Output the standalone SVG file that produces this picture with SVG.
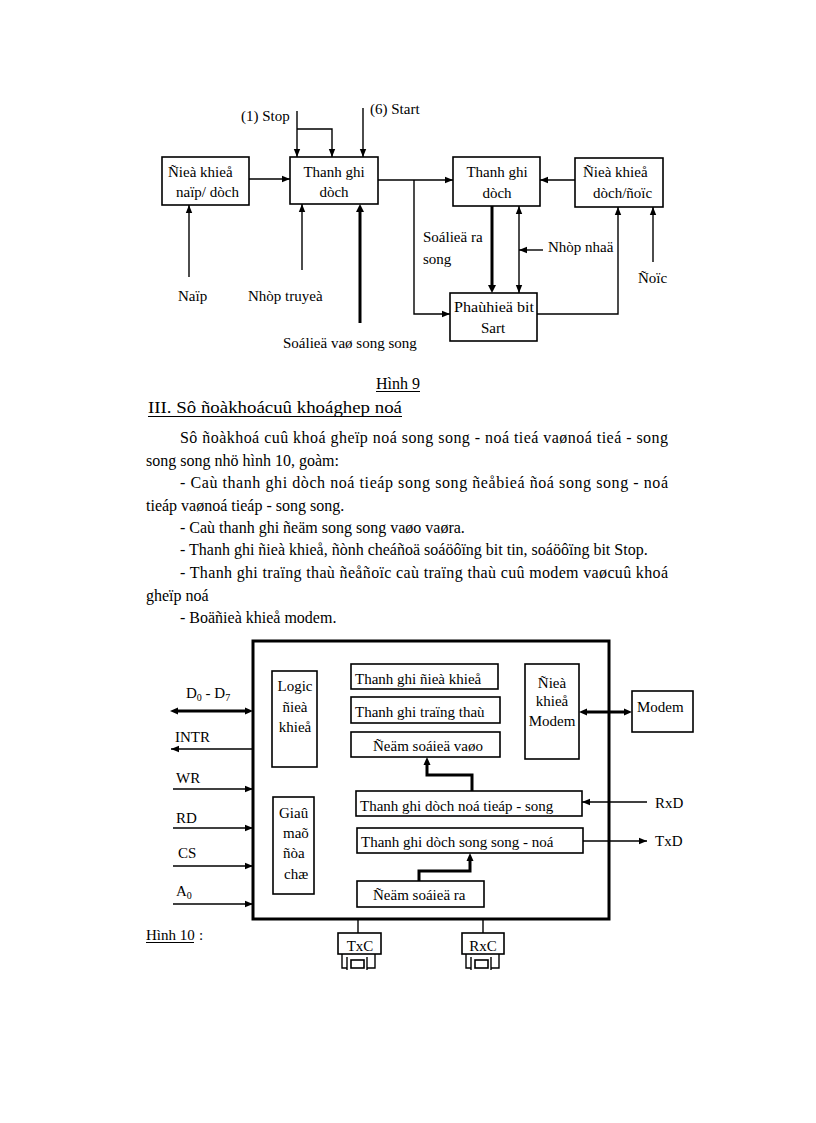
<svg xmlns="http://www.w3.org/2000/svg" width="816" height="1123" viewBox="0 0 816 1123">
<style>
text{font-family:"Liberation Serif","Times New Roman",serif;fill:#000;font-size:15px}
.b{font-size:16px}
.box{fill:#fff;stroke:#000;stroke-width:1.6}
.ln{fill:none;stroke:#000;stroke-width:1.4}
.th{fill:none;stroke:#000;stroke-width:3}
.ul{stroke:#000;stroke-width:1.2}
.m{text-anchor:middle}
</style>
<defs>
<marker id="ar" markerUnits="userSpaceOnUse" markerWidth="9" markerHeight="8" refX="8" refY="4" orient="auto-start-reverse"><path d="M0,0.8 L8,4 L0,7.2 Z" fill="#000"/></marker>
</defs>
<rect width="816" height="1123" fill="#fff"/>

<!-- Figure 9 -->
<g id="n-dk-nap"><rect class="box" x="162" y="157" width="87" height="48"/><text x="168" y="177">Ñieà khieå</text><text x="176" y="197">naïp/ dòch</text></g>
<g id="n-tg1"><rect class="box" x="290" y="157" width="88" height="47"/><text class="m" x="334" y="177">Thanh ghi</text><text class="m" x="334" y="197">dòch</text></g>
<g id="n-tg2"><rect class="box" x="453" y="157" width="87" height="49"/><text class="m" x="497" y="177">Thanh ghi</text><text class="m" x="497" y="198">dòch</text></g>
<g id="n-dk-doc"><rect class="box" x="575" y="158" width="88" height="49"/><text x="583" y="177">Ñieà khieå</text><text x="593" y="198">dòch/ñoïc</text></g>
<g id="n-phat"><rect class="box" x="450" y="293" width="87" height="48"/><text x="454" y="312" textLength="80" lengthAdjust="spacingAndGlyphs">Phaùhieä bit</text><text class="m" x="493" y="333">Sart</text></g>
<g id="labels9">
<text x="241" y="121">(1) Stop</text>
<text x="370" y="114">(6) Start</text>
<text x="178" y="301">Naïp</text>
<text x="248" y="301">Nhòp truyeà</text>
<text x="283" y="348">Soálieä vaø song song</text>
<text x="423" y="242">Soálieä ra</text>
<text x="423" y="264">song</text>
<text x="548" y="252">Nhòp nhaä</text>
<text x="638" y="283">Ñoïc</text>
</g>
<g id="conn9">
<line class="ln" x1="249" y1="179" x2="290" y2="179" marker-end="url(#ar)"/>
<line class="ln" x1="297" y1="111" x2="297" y2="157" marker-end="url(#ar)"/>
<polyline class="ln" points="297,129 332,129 332,157" marker-end="url(#ar)"/>
<line class="ln" x1="363" y1="108" x2="363" y2="157" marker-end="url(#ar)"/>
<line class="ln" x1="189" y1="277" x2="189" y2="205" marker-end="url(#ar)"/>
<line class="ln" x1="302" y1="270" x2="302" y2="204" marker-end="url(#ar)"/>
<line class="th" x1="360" y1="323" x2="360" y2="210"/>
<path d="M360,204 L356,212 L364,212 Z" fill="#000"/>
<line class="ln" x1="378" y1="180" x2="453" y2="180" marker-end="url(#ar)"/>
<polyline class="ln" points="414,180 414,314 450,314" marker-end="url(#ar)"/>
<line class="th" x1="492" y1="206" x2="492" y2="287"/>
<path d="M492,293 L488,285 L496,285 Z" fill="#000"/>
<line class="ln" x1="519" y1="206" x2="519" y2="293" marker-start="url(#ar)" marker-end="url(#ar)"/>
<line class="ln" x1="543" y1="250" x2="519" y2="250" marker-end="url(#ar)"/>
<polyline class="ln" points="537,314 618,314 618,207" marker-end="url(#ar)"/>
<line class="ln" x1="575" y1="180" x2="540" y2="180" marker-end="url(#ar)"/>
<line class="ln" x1="653" y1="262" x2="653" y2="207" marker-end="url(#ar)"/>
</g>

<!-- Text block -->
<g id="text">
<text x="398" y="389" class="b m">Hình 9</text>
<line class="ul" x1="376" y1="391.5" x2="420" y2="391.5"/>
<text x="148" y="413" class="b" font-size="17" textLength="254" lengthAdjust="spacingAndGlyphs">III. Sô ñoàkhoácuû khoághep noá</text>
<line class="ul" x1="148" y1="416.5" x2="402" y2="416.5"/>
<text class="b" x="180" y="443" textLength="488" lengthAdjust="spacing">Sô ñoàkhoá cuû khoá gheïp noá song song - noá tieá vaønoá tieá - song</text>
<text class="b" x="146" y="466">song song nhö hình 10,  goàm:</text>
<text class="b" x="180" y="488" textLength="488" lengthAdjust="spacing">- Caù thanh ghi dòch noá tieáp song song ñeåbieá ñoá song song - noá</text>
<text class="b" x="146" y="511">tieáp vaønoá tieáp - song song.</text>
<text class="b" x="180" y="533">- Caù thanh ghi ñeäm song song vaøo vaøra.</text>
<text class="b" x="180" y="555">- Thanh ghi ñieà khieå, ñònh cheáñoä soáöôïng bit tin, soáöôïng bit Stop.</text>
<text class="b" x="180" y="578" textLength="488" lengthAdjust="spacing">- Thanh ghi traïng thaù ñeåñoïc caù traïng thaù cuû modem vaøcuû khoá</text>
<text class="b" x="146" y="601">gheïp noá</text>
<text class="b" x="180" y="623">- Boäñieà khieå modem.</text>
</g>

<!-- Figure 10 -->
<g id="n-outer"><rect x="253" y="641" width="356" height="278" fill="none" stroke="#000" stroke-width="3"/></g>
<g id="n-logic"><rect class="box" x="272" y="671" width="45" height="96"/><text class="m" x="295" y="691">Logic</text><text class="m" x="295" y="712">ñieà</text><text class="m" x="295" y="732">khieå</text></g>
<g id="n-giai"><rect class="box" x="273" y="797" width="41" height="97"/><text x="279" y="818">Giaû</text><text x="283" y="838">maõ</text><text x="283" y="858">ñòa</text><text x="284" y="879">chæ</text></g>
<g id="n-tgdk"><rect class="box" x="351" y="664" width="147" height="25"/><text x="355" y="684">Thanh ghi ñieà khieå</text></g>
<g id="n-tgtt"><rect class="box" x="351" y="697" width="149" height="26"/><text x="355" y="717">Thanh ghi traïng thaù</text></g>
<g id="n-demvao"><rect class="box" x="351" y="732" width="149" height="25"/><text x="373" y="751">Ñeäm soáieä vaøo</text></g>
<g id="n-dkmodem"><rect class="box" x="525" y="664" width="54" height="95"/><text class="m" x="552" y="688">Ñieà</text><text class="m" x="552" y="706">khieå</text><text class="m" x="552" y="726">Modem</text></g>
<g id="n-modem"><rect class="box" x="632" y="691" width="61" height="41"/><text x="637" y="712">Modem</text></g>
<g id="n-tgnts"><rect class="box" x="356" y="791" width="226" height="25"/><text x="360" y="811">Thanh ghi dòch noá tieáp - song</text></g>
<g id="n-tgssn"><rect class="box" x="357" y="828" width="226" height="25"/><text x="361" y="847">Thanh ghi dòch song song - noá</text></g>
<g id="n-demra"><rect class="box" x="357" y="881" width="127" height="26"/><text x="373" y="900">Ñeäm soáieä ra</text></g>
<g id="n-txc"><line class="ln" x1="358" y1="919" x2="358" y2="933"/><rect class="box" x="338" y="933" width="43" height="21"/><text class="m" x="360" y="951">TxC</text>
<polyline class="ln" points="342,954 342,968 347,968"/><line class="ln" x1="347" y1="957" x2="347" y2="970"/><rect class="box" x="351" y="960" width="13" height="8"/><line class="ln" x1="367" y1="957" x2="367" y2="970"/><polyline class="ln" points="367,968 375,968 375,954"/></g>
<g id="n-rxc"><line class="ln" x1="483" y1="919" x2="483" y2="933"/><rect class="box" x="462" y="933" width="42" height="21"/><text class="m" x="483" y="951">RxC</text>
<polyline class="ln" points="466,954 466,968 471,968"/><line class="ln" x1="471" y1="957" x2="471" y2="970"/><rect class="box" x="475" y="960" width="13" height="8"/><line class="ln" x1="491" y1="957" x2="491" y2="970"/><polyline class="ln" points="491,968 499,968 499,954"/></g>
<g id="labels10">
<text x="186" y="698">D<tspan font-size="10" dy="3">0</tspan><tspan dy="-3"> - D</tspan><tspan font-size="10" dy="3">7</tspan></text>
<text x="175" y="742">INTR</text>
<text x="176" y="783">WR</text>
<text x="176" y="823">RD</text>
<text x="178" y="858">CS</text>
<text x="176" y="896">A<tspan font-size="10" dy="3">0</tspan></text>
<text x="655" y="808">RxD</text>
<text x="655" y="846">TxD</text>
<text x="146" y="940">Hình 10</text><text x="199" y="940">:</text>
<line class="ul" x1="146" y1="942.5" x2="194" y2="942.5"/>
</g>
<g id="conn10">
<line x1="176" y1="711" x2="247" y2="711" stroke="#000" stroke-width="3"/>
<path d="M170,711 L178,707.5 L178,714.5 Z M253,711 L245,707.5 L245,714.5 Z" fill="#000"/>
<line class="ln" x1="253" y1="749" x2="171" y2="749" marker-end="url(#ar)"/>
<line class="ln" x1="173" y1="789" x2="253" y2="789" marker-end="url(#ar)"/>
<line class="ln" x1="173" y1="828" x2="253" y2="828" marker-end="url(#ar)"/>
<line class="ln" x1="173" y1="866" x2="253" y2="866" marker-end="url(#ar)"/>
<line class="ln" x1="173" y1="904" x2="253" y2="904" marker-end="url(#ar)"/>
<line x1="585" y1="712" x2="626" y2="712" stroke="#000" stroke-width="3"/>
<path d="M579,712 L587,708.5 L587,715.5 Z M632,712 L624,708.5 L624,715.5 Z" fill="#000"/>
<polyline class="th" points="472,791 472,775 427,775 427,763"/>
<path d="M427,757 L423.5,765 L430.5,765 Z" fill="#000"/>
<polyline class="th" points="419,881 419,871 470,871 470,859"/>
<path d="M470,853 L466.5,861 L473.5,861 Z" fill="#000"/>
<line class="ln" x1="647" y1="802" x2="582" y2="802" marker-end="url(#ar)"/>
<line class="ln" x1="583" y1="841" x2="647" y2="841" marker-end="url(#ar)"/>
</g>
</svg>
